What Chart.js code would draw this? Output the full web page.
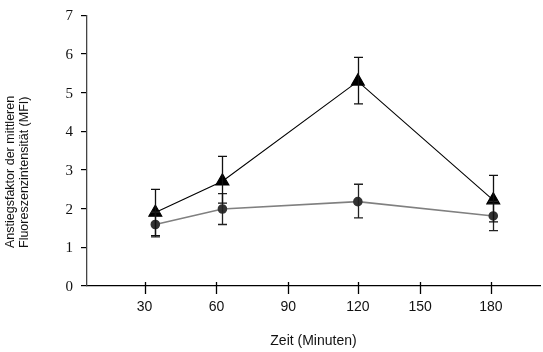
<!DOCTYPE html>
<html>
<head>
<meta charset="utf-8">
<script src="https://cdn.jsdelivr.net/npm/chart.js@4.4.1/dist/chart.umd.min.js"></script>
<style>
  html, body { margin: 0; padding: 0; background: #fff; }
  #wrap { width: 543px; height: 352px; }
</style>
</head>
<body>
<div id="wrap"><canvas id="c" width="543" height="352"></canvas></div>
<script>
  // tick positions on the (unevenly drawn) time axis and their labels
  var tickPos = [30, 60, 90, 119, 145, 174.5];
  var tickLabels = ['30', '60', '90', '120', '150', '180'];

  // measurement points (position on the axis)
  var timePos = [34.5, 62.5, 119, 175.5];

  // triangles
  var triVals = [1.90, 2.71, 5.29, 2.22];
  var triErrUp = [0.60, 0.64, 0.62, 0.64];
  var triErrDown = [0.60, 0.57, 0.58, 0.56];

  // circles
  var circVals = [1.59, 1.99, 2.18, 1.81];
  var circErrUp = [0.32, 0.40, 0.45, 0.38];
  var circErrDown = [0.32, 0.40, 0.42, 0.38];

  var yTitle = ['Anstiegsfaktor der mittleren', 'Fluoreszenzintensität (MFI)'];
  var xTitle = 'Zeit (Minuten)';

  function pts(vals) {
    return vals.map(function (v, i) { return { x: timePos[i], y: v }; });
  }

  var errorBars = {
    id: 'errorBars',
    afterDatasetsDraw: function (chart) {
      var ctx = chart.ctx;
      var xs = chart.scales.x, ys = chart.scales.y;
      var sets = [
        { v: circVals, up: circErrUp, dn: circErrDown, color: '#222' },
        { v: triVals, up: triErrUp, dn: triErrDown, color: '#111' }
      ];
      ctx.save();
      ctx.lineWidth = 1.3;
      sets.forEach(function (s) {
        ctx.strokeStyle = s.color;
        s.v.forEach(function (v, i) {
          var x = Math.round(xs.getPixelForValue(timePos[i])) + 0.5;
          var yt = ys.getPixelForValue(v + s.up[i]);
          var yb = ys.getPixelForValue(v - s.dn[i]);
          ctx.beginPath();
          ctx.moveTo(x, yt); ctx.lineTo(x, yb);
          ctx.moveTo(x - 4.5, yt); ctx.lineTo(x + 4.5, yt);
          ctx.moveTo(x - 4.5, yb); ctx.lineTo(x + 4.5, yb);
          ctx.stroke();
        });
      });
      ctx.restore();
    }
  };

  var axisDecor = {
    id: 'axisDecor',
    afterDraw: function (chart) {
      var ctx = chart.ctx;
      var xs = chart.scales.x, ys = chart.scales.y, area = chart.chartArea;
      ctx.save();
      ctx.strokeStyle = '#000';
      ctx.lineWidth = 1.3;
      tickPos.forEach(function (p) {
        var x = Math.round(xs.getPixelForValue(p)) + 0.5;
        ctx.beginPath();
        ctx.moveTo(x, area.bottom - 4);
        ctx.lineTo(x, area.bottom + 8);
        ctx.stroke();
      });
      // y tick labels in a serif face
      ctx.fillStyle = '#111';
      ctx.font = '15px "Liberation Serif", "Times New Roman", serif';
      ctx.textAlign = 'right';
      ctx.textBaseline = 'middle';
      ys.ticks.forEach(function (t) {
        ctx.fillText(String(t.value), area.left - 14, ys.getPixelForValue(t.value) + 1);
      });
      // y axis title, two lines, starting at the same height
      ctx.font = '12.5px "Liberation Sans", Arial, sans-serif';
      ctx.textAlign = 'left';
      ctx.translate(0, 248);
      ctx.rotate(-Math.PI / 2);
      ctx.fillText(yTitle[0], 0, 11);
      ctx.fillText(yTitle[1], 0, 25);
      ctx.restore();
    }
  };

  new Chart(document.getElementById('c'), {
    type: 'line',
    data: {
      datasets: [
        {
          data: pts(circVals),
          borderColor: '#808080',
          borderWidth: 1.6,
          pointStyle: 'circle',
          pointRadius: 4,
          pointBackgroundColor: '#333',
          pointBorderColor: '#333',
          tension: 0,
          order: 2
        },
        {
          data: pts(triVals),
          borderColor: '#000',
          borderWidth: 1.1,
          pointStyle: 'triangle',
          pointRadius: 7.5,
          pointBackgroundColor: '#000',
          pointBorderColor: '#000',
          tension: 0,
          order: 1
        }
      ]
    },
    options: {
      responsive: false,
      animation: false,
      layout: { autoPadding: false, padding: { top: 9, right: 3, left: 0, bottom: 0 } },
      plugins: { legend: { display: false }, tooltip: { enabled: false } },
      scales: {
        x: {
          type: 'linear',
          min: 6,
          max: 195,
          afterBuildTicks: function (scale) {
            scale.ticks = tickPos.map(function (p) { return { value: p }; });
          },
          afterFit: function (scale) { scale.height = 66; },
          ticks: {
            autoSkip: false,
            maxRotation: 0,
            padding: 5,
            color: '#111',
            font: { family: 'Liberation Sans, Arial, sans-serif', size: 14 },
            callback: function (v) {
              var i = tickPos.indexOf(v);
              return i >= 0 ? tickLabels[i] : '';
            }
          },
          grid: { display: false, drawTicks: true, tickLength: 8 },
          border: { display: true, color: '#000', width: 1.3 },
          title: {
            display: true,
            text: xTitle,
            color: '#111',
            font: { family: 'Liberation Sans, Arial, sans-serif', size: 14 },
            padding: { top: 0, bottom: 2 }
          }
        },
        y: {
          min: 0,
          max: 7,
          afterFit: function (scale) { scale.width = 87; },
          ticks: {
            stepSize: 1,
            padding: 8,
            color: 'rgba(0,0,0,0)'
          },
          grid: { drawOnChartArea: false, drawTicks: true, tickLength: 6, color: '#000', lineWidth: 1.2 },
          border: { display: true, color: '#444', width: 1.3 }
        }
      }
    },
    plugins: [errorBars, axisDecor]
  });
</script>
</body>
</html>
